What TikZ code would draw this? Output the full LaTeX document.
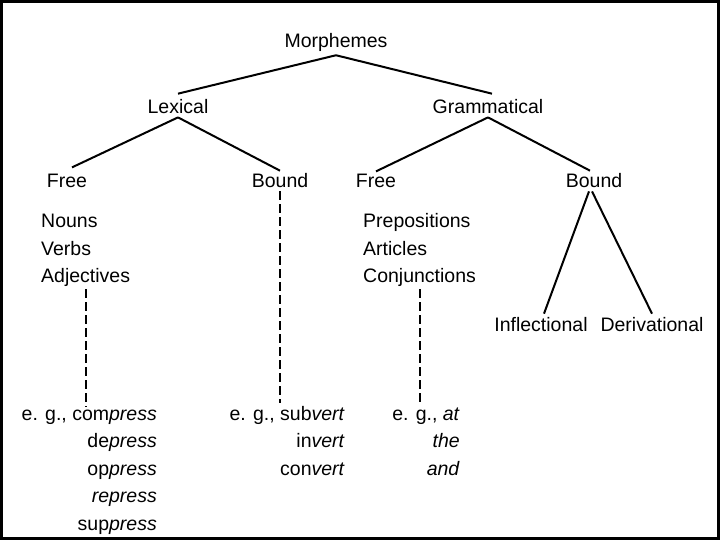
\documentclass[tikz,border=0pt]{standalone}
\usepackage{fontspec}
\setmainfont{Liberation Sans}

\begin{document}
\begin{tikzpicture}[x=1pt,y=-1pt,
    word/.style={font=\fontsize{19.5}{23}\selectfont, inner sep=3pt},
    branch/.style={line width=2pt},
    dashline/.style={line width=2pt, dash pattern=on 9pt off 4pt}]
\useasboundingbox (0,0) rectangle (720,540);
\draw [line width=3pt] (1.5,1.5) rectangle (718.5,538.5);
% tree labels
\node (morph) at (336,48) [word,anchor=base] {Morphemes};
\node (lex) at (178,114) [word,anchor=base] {Lexical};
\node (gram) at (488,114) [word,anchor=base] {Grammatical};
\node (lexfree) at (67,188) [word,anchor=base] {Free};
\node (lexbound) at (280,188) [word,anchor=base] {Bound};
\node (gramfree) at (376,188) [word,anchor=base] {Free};
\node (grambound) at (594,188) [word,anchor=base] {Bound};
\node (infl) at (541,331) [word,anchor=base] {Inflectional};
\node (deriv) at (652,331) [word,anchor=base] {Derivational};
% branches
\draw [branch] (morph.south) -- ([yshift=3pt]lex.north);
\draw [branch] (morph.south) -- ([xshift=4pt,yshift=3pt]gram.north);
\draw [branch] (lex.south) -- ([xshift=5pt,yshift=4pt]lexfree.north);
\draw [branch] (lex.south) -- (lexbound.north);
\draw [branch] (gram.south) -- (gramfree.north);
\draw [branch] (gram.south) -- ([xshift=-4pt]grambound.north);
\draw [branch] ([xshift=-5pt]grambound.south) -- ([xshift=3pt]infl.north);
\draw [branch] ([xshift=-2pt]grambound.south) -- (deriv.north);
% word classes
\foreach \w [count=\i] in {Nouns,Verbs,Adjectives}
    \node (lexcls\i) at (38,{201+27*\i}) [word,anchor=base west] {\w};
\foreach \w [count=\i] in {Prepositions,Articles,Conjunctions}
    \node (gramcls\i) at (360,{201+27*\i}) [word,anchor=base west] {\w};
% examples
\foreach \w [count=\i] in {{e. g., com\textit{press}},de\textit{press},op\textit{press},\textit{repress},sup\textit{press}}
    \node (exa\i) at (160,{392.5+27.5*\i}) [word,anchor=base east] {\w};
\foreach \w [count=\i] in {{e. g., sub\textit{vert}},in\textit{vert},con\textit{vert}}
    \node (exb\i) at (348,{392.5+27.5*\i}) [word,anchor=base east] {\w};
\foreach \w [count=\i] in {{e. g., \textit{at}},\textit{the},\textit{and}}
    \node (exc\i) at (463,{392.5+27.5*\i}) [word,anchor=base east] {\w};
% dashed links
\draw [dashline] (lexcls3.south) -- (lexcls3.south |- exa1.north);
\draw [dashline] (lexbound.south) -- (lexbound.south |- exb1.north);
\draw [dashline] (gramcls3.south) -- (gramcls3.south |- exc1.north);
\end{tikzpicture}
\end{document}
